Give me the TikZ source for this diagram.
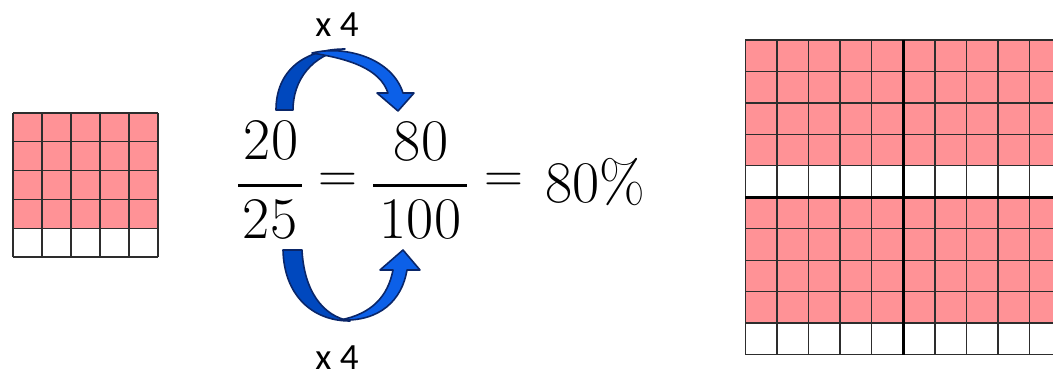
\documentclass[tikz,border=0pt]{standalone}
\usepackage{fontspec}
\newfontfamily\calib{Carlito}
\definecolor{pinkc}{RGB}{255,146,150}
\definecolor{gridc}{RGB}{45,45,45}
\definecolor{darkblue}{RGB}{0,72,190}
\definecolor{lightblue}{RGB}{12,96,232}
\definecolor{edgeblue}{RGB}{10,38,105}
\tikzset{
  gridline/.style={draw=gridc, line width=1.3pt},
  thickline/.style={draw=black, line width=3pt},
  bandback/.style={fill=darkblue, draw=edgeblue, line width=1.6pt, line join=round},
  bandfront/.style={fill=lightblue, draw=edgeblue, line width=1.6pt, line join=round},
  numtext/.style={inner sep=0pt, anchor=base, font=\fontsize{59}{59}\selectfont},
  eqtext/.style={inner sep=0pt, font=\fontsize{54}{54}\selectfont},
  multext/.style={inner sep=0pt, anchor=base, font=\calib\fontsize{37}{37}\selectfont},
  fracbar/.style={draw=black, line width=3pt}
}
\begin{document}
\begin{tikzpicture}[x=1pt,y=-1pt]
\useasboundingbox (0,0) rectangle (1053,377);

% small grid 5x5
\fill[pinkc] (13,113) rectangle (158,228.2);
\foreach \i in {0,...,5} \draw[gridline] (13+29*\i,113) -- (13+29*\i,257);
\foreach \j in {0,...,5} \draw[gridline] (13,113+28.8*\j) -- (158,113+28.8*\j);

% big grid 10x10 (clipped at right edge)
\begin{scope}
\clip (0,0) rectangle (1053,377);
\fill[pinkc] (745.3,40) rectangle (1061.3,165.8);
\fill[pinkc] (745.3,197.25) rectangle (1061.3,323.05);
\foreach \i in {0,...,10} \draw[gridline] (745.3+31.6*\i,40) -- (745.3+31.6*\i,354.5);
\foreach \j in {0,...,10} \draw[gridline] (745.3,40+31.45*\j) -- (1061.3,40+31.45*\j);
\draw[thickline] (903.3,40) -- (903.3,354.5);
\draw[thickline] (745.3,197.25) -- (1061.3,197.25);
\end{scope}

% equation
\node[numtext] (n20) at (271,160) {20};
\node[numtext] (d25) at (270,238) {25};
\draw[fracbar] (238,186) -- (302,186);
\node[eqtext] (eq1) at (338,183) {=};
\node[numtext] (n80) at (421,161) {80};
\node[numtext] (d100) at (420.5,238) {100};
\draw[fracbar] (373,186) -- (467,186);
\node[eqtext] (eq2) at (504,183) {=};
\node[numtext] (pct) at (595,203) {80\%};

% top curved arrow
\path[bandback] (276,110) .. controls (276,70) and (305,49) .. (345,49)
  .. controls (312,55) and (293,80) .. (293,110) -- cycle;
\path[bandfront] (312,53) .. controls (345,45) and (392,58) .. (403,93)
  -- (414,93) -- (398,111) -- (377,93) -- (388,93)
  .. controls (380,69) and (350,59) .. (312,53) -- cycle;

% bottom curved arrow
\path[bandback] (283,250) .. controls (284,295) and (312,321) .. (350,321)
  .. controls (322,316) and (304,290) .. (302,250) -- cycle;
\path[bandfront] (340,320) .. controls (380,322) and (402,300) .. (407,270)
  -- (420,270) -- (403,250) -- (380,270) -- (393,270)
  .. controls (388,296) and (372,314) .. (340,320) -- cycle;

% labels
\node[multext] (top4) at (337,37) {x 4};
\node[multext] (bot4) at (337,369) {x 4};
\end{tikzpicture}
\end{document}
